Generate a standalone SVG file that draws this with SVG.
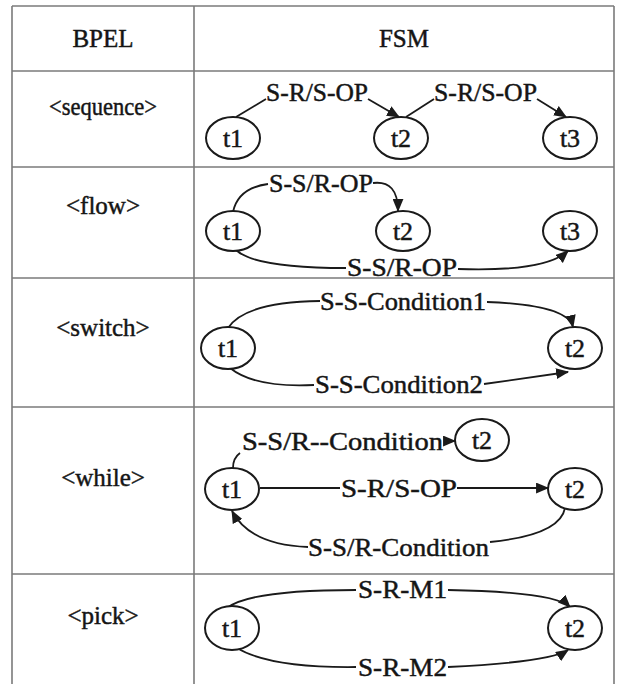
<svg xmlns="http://www.w3.org/2000/svg" width="620" height="684" viewBox="0 0 620 684">
  <style>
    .grid { stroke: #7a7a7a; stroke-width: 1.6; fill: none; }
    .node ellipse { fill: #ffffff; stroke: #1a1a1a; stroke-width: 2; }
    text { font-family: "Liberation Serif", "Times New Roman", serif; fill: #151515; stroke: #151515; stroke-width: 0.45; }
    .hd { font-size: 25px; text-anchor: middle; }
    .nl { font-size: 26px; text-anchor: middle; }
    .el { font-size: 25px; }
    .edge { fill: none; stroke: #1a1a1a; stroke-width: 1.8; }
  </style>
  <defs>
    <marker id="arr" viewBox="0 0 12 10" refX="11" refY="5" markerWidth="13" markerHeight="11" markerUnits="userSpaceOnUse" orient="auto">
      <path d="M0,0 L12,5 L0,10 Z" fill="#1a1a1a"/>
    </marker>
  </defs>
  <rect width="620" height="684" fill="#ffffff"/>

  <!-- table grid -->
  <g id="table">
    <line class="grid" x1="12" y1="6" x2="614" y2="6"/>
    <line class="grid" x1="12" y1="6" x2="12" y2="684"/>
    <line class="grid" x1="194" y1="6" x2="194" y2="684"/>
    <line class="grid" x1="614" y1="6" x2="614" y2="684"/>
    <line class="grid" x1="12" y1="71" x2="614" y2="71"/>
    <line class="grid" x1="12" y1="167" x2="614" y2="167"/>
    <line class="grid" x1="12" y1="278" x2="614" y2="278"/>
    <line class="grid" x1="12" y1="407" x2="614" y2="407"/>
    <line class="grid" x1="12" y1="574" x2="614" y2="574"/>
  </g>

  <!-- column and row headings -->
  <g id="headings">
    <text class="hd" x="103" y="47">BPEL</text>
    <text class="hd" x="404" y="47">FSM</text>
    <text class="hd" x="103" y="115" textLength="108" lengthAdjust="spacingAndGlyphs">&lt;sequence&gt;</text>
    <text class="hd" x="103" y="214">&lt;flow&gt;</text>
    <text class="hd" x="103" y="336">&lt;switch&gt;</text>
    <text class="hd" x="103" y="486">&lt;while&gt;</text>
    <text class="hd" x="103" y="624">&lt;pick&gt;</text>
  </g>

  <!-- connectors -->
  <g id="connectors">
    <!-- sequence -->
    <path class="edge" d="M236,117 L266,99"/>
    <path class="edge" d="M368,99 L399,117" marker-end="url(#arr)"/>
    <path class="edge" d="M406,117 L434,99"/>
    <path class="edge" d="M537,99 L566,117" marker-end="url(#arr)"/>
    <!-- flow -->
    <path class="edge" d="M233,212 Q238,188 268,184"/>
    <path class="edge" d="M373,183 Q398,180 398,211" marker-end="url(#arr)"/>
    <path class="edge" d="M236,250 Q255,268 346,268"/>
    <path class="edge" d="M458,269 Q545,272 568,251" marker-end="url(#arr)"/>
    <!-- switch -->
    <path class="edge" d="M228,328 Q245,302 320,301"/>
    <path class="edge" d="M487,302 Q568,305 573,327" marker-end="url(#arr)"/>
    <path class="edge" d="M230,368 Q255,388 314,385"/>
    <path class="edge" d="M484,384 L568,372" marker-end="url(#arr)"/>
    <!-- while -->
    <path class="edge" d="M233,468 Q233,458 240,453"/>
    <path class="edge" d="M444,441 L455,441" marker-end="url(#arr)"/>
    <path class="edge" d="M260,488 L340,488"/>
    <path class="edge" d="M457,488 L548,488" marker-end="url(#arr)"/>
    <path class="edge" d="M565,508 Q560,535 490,542"/>
    <path class="edge" d="M308,547 Q250,545 232,511" marker-end="url(#arr)"/>
    <!-- pick -->
    <path class="edge" d="M227,608 Q250,590 356,590"/>
    <path class="edge" d="M448,590 Q555,592 570,607" marker-end="url(#arr)"/>
    <path class="edge" d="M237,648 Q270,668 356,667"/>
    <path class="edge" d="M448,667 Q550,662 568,650" marker-end="url(#arr)"/>
  </g>

  <!-- connector labels -->
  <g id="labels">
    <text class="el" x="266" y="101" textLength="102" lengthAdjust="spacingAndGlyphs">S-R/S-OP</text>
    <text class="el" x="434" y="101" textLength="103" lengthAdjust="spacingAndGlyphs">S-R/S-OP</text>
    <text class="el" x="269" y="192" textLength="104" lengthAdjust="spacingAndGlyphs">S-S/R-OP</text>
    <text class="el" x="347" y="276" textLength="110" lengthAdjust="spacingAndGlyphs">S-S/R-OP</text>
    <text class="el" x="320" y="310" textLength="166" lengthAdjust="spacingAndGlyphs">S-S-Condition1</text>
    <text class="el" x="315" y="393" textLength="168" lengthAdjust="spacingAndGlyphs">S-S-Condition2</text>
    <text class="el" x="242" y="450" textLength="201" lengthAdjust="spacingAndGlyphs">S-S/R--Condition</text>
    <text class="el" x="341" y="497" textLength="116" lengthAdjust="spacingAndGlyphs">S-R/S-OP</text>
    <text class="el" x="308" y="556" textLength="181" lengthAdjust="spacingAndGlyphs">S-S/R-Condition</text>
    <text class="el" x="358" y="598" textLength="89" lengthAdjust="spacingAndGlyphs">S-R-M1</text>
    <text class="el" x="358" y="676" textLength="89" lengthAdjust="spacingAndGlyphs">S-R-M2</text>
  </g>

  <!-- states -->
  <g id="seq-t1" class="node"><ellipse cx="233" cy="138" rx="27" ry="21"/><text class="nl" x="233" y="147">t1</text></g>
  <g id="seq-t2" class="node"><ellipse cx="401" cy="138" rx="27" ry="21"/><text class="nl" x="401" y="147">t2</text></g>
  <g id="seq-t3" class="node"><ellipse cx="570" cy="138" rx="27" ry="21"/><text class="nl" x="570" y="147">t3</text></g>

  <g id="flow-t1" class="node"><ellipse cx="233" cy="231" rx="27" ry="20"/><text class="nl" x="233" y="240">t1</text></g>
  <g id="flow-t2" class="node"><ellipse cx="403" cy="231" rx="27" ry="20"/><text class="nl" x="403" y="240">t2</text></g>
  <g id="flow-t3" class="node"><ellipse cx="570" cy="231" rx="27" ry="20"/><text class="nl" x="570" y="240">t3</text></g>

  <g id="switch-t1" class="node"><ellipse cx="228" cy="348" rx="27" ry="21"/><text class="nl" x="228" y="357">t1</text></g>
  <g id="switch-t2" class="node"><ellipse cx="575" cy="348" rx="27" ry="21"/><text class="nl" x="575" y="357">t2</text></g>

  <g id="while-t2a" class="node"><ellipse cx="482" cy="440" rx="27" ry="21"/><text class="nl" x="482" y="449">t2</text></g>
  <g id="while-t1" class="node"><ellipse cx="232" cy="489" rx="27" ry="21"/><text class="nl" x="232" y="498">t1</text></g>
  <g id="while-t2b" class="node"><ellipse cx="575" cy="489" rx="27" ry="21"/><text class="nl" x="575" y="498">t2</text></g>

  <g id="pick-t1" class="node"><ellipse cx="232" cy="628" rx="27" ry="22"/><text class="nl" x="232" y="637">t1</text></g>
  <g id="pick-t2" class="node"><ellipse cx="575" cy="628" rx="27" ry="22"/><text class="nl" x="575" y="637">t2</text></g>
</svg>
